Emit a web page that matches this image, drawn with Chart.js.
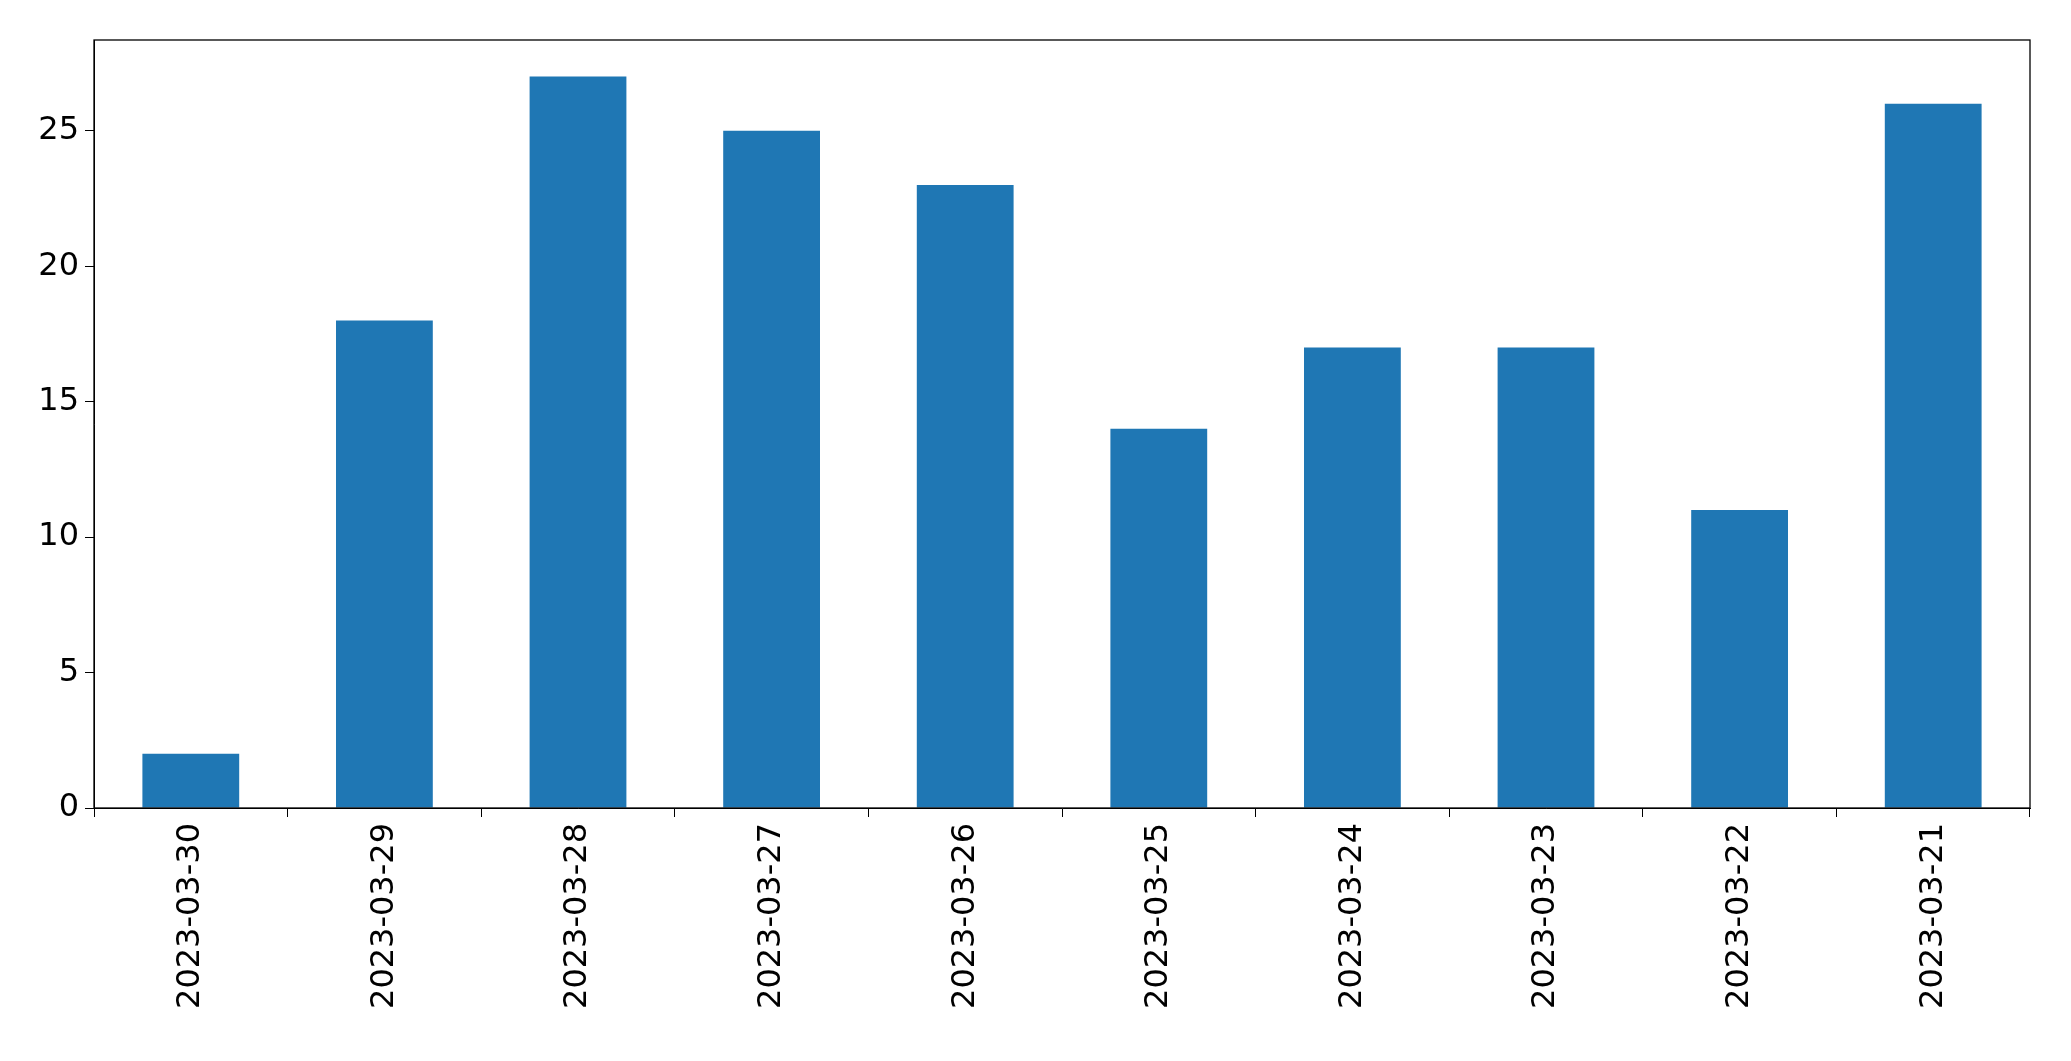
<!DOCTYPE html>
<html><head><meta charset="utf-8">
<script src="https://cdn.jsdelivr.net/npm/chart.js@4"></script>
<style>html,body{margin:0;padding:0;background:#fff}#c{display:block}</style>
</head><body>
<div style="width:2071px;height:1061px"><canvas id="c"></canvas></div>
<script>
const categories = ["2023-03-30","2023-03-29","2023-03-28","2023-03-27","2023-03-26","2023-03-25","2023-03-24","2023-03-23","2023-03-22","2023-03-21"];
const counts = [2,18,27,25,23,14,17,17,11,26];
const yTicks = [0,5,10,15,20,25];
const frame = {id:'frame',afterDraw(c){const a=c.chartArea,x=c.ctx;x.save();x.strokeStyle='#000';x.lineWidth=1.3;x.strokeRect(a.left,a.top,a.right-a.left,a.bottom-a.top);x.restore();}};
new Chart(document.getElementById('c'),{
type:'bar',
data:{labels:categories,datasets:[{data:counts,backgroundColor:'#1f77b4',categoryPercentage:1,barPercentage:0.5}]},
options:{responsive:true,maintainAspectRatio:false,animation:false,
layout:{padding:{top:40,right:41,left:0,bottom:0}},
plugins:{legend:{display:false},tooltip:{enabled:false}},
scales:{
x:{grid:{drawOnChartArea:false,drawTicks:true,tickLength:9,color:'#000'},border:{color:'#000'},
 ticks:{color:'#000',font:{family:'DejaVu Sans',size:32},minRotation:90,maxRotation:90,padding:6},
 afterFit(s){s.height=253;}},
y:{min:0,max:28.35,grid:{drawOnChartArea:false,drawTicks:true,tickLength:9,color:'#000'},border:{color:'#000'},
 afterBuildTicks(s){s.ticks=yTicks.map(v=>({value:v}));},
 ticks:{color:'#000',font:{family:'DejaVu Sans',size:32},padding:6},
 afterFit(s){s.width=94;}}
}},
plugins:[frame]
});
</script></body></html>
